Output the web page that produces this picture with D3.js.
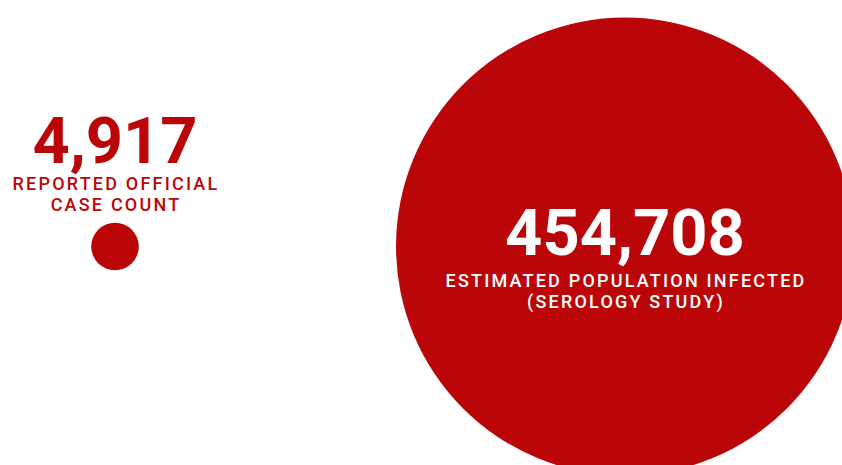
<!DOCTYPE html>
<html>
<head>
<meta charset="utf-8">
<script src="https://cdn.jsdelivr.net/npm/d3@7"></script>
<style>
  body { margin: 0; background: #fff; }
  svg text { font-family: Roboto, "Noto Sans", sans-serif; }
</style>
</head>
<body>
<div id="chart"></div>
<script>
// Chart size
var svgWidth = 842;
var svgHeight = 465;

// Data
var values = [4917, 454708];
var numberLabels = ["4,917", "454,708"];
var captionLines = [
    ["REPORTED OFFICIAL", "CASE COUNT"],
    ["ESTIMATED POPULATION INFECTED", "(SEROLOGY STUDY)"]
];

var red = "#bb0609";

var svg = d3.select("#chart")
    .append("svg")
    .attr("width", svgWidth)
    .attr("height", svgHeight);

// area-proportional radius
var rScale = d3.scaleSqrt()
    .domain([0, d3.max(values)])
    .range([0, 229]);

// x positions of the two bubbles
var xScale = d3.scalePoint()
    .domain([0, 1])
    .range([115, 625]);

var cy = 246.5;

svg.selectAll("circle")
    .data(values)
    .enter()
    .append("circle")
    .attr("cx", (d, i) => xScale(i))
    .attr("cy", cy)
    .attr("r", d => rScale(d))
    .attr("fill", red);

// small bubble: labels above it, big bubble: labels inside
var numberY = [163, 255];
var captionY = [190, 287];
var textColor = [red, "#fff"];

svg.selectAll("text.num")
    .data(numberLabels)
    .enter()
    .append("text")
    .attr("class", "num")
    .attr("x", (d, i) => xScale(i))
    .attr("y", (d, i) => numberY[i])
    .attr("text-anchor", "middle")
    .attr("font-weight", 700)
    .attr("font-size", "65px")
    .attr("fill", (d, i) => textColor[i])
    .text(d => d);

captionLines.forEach(function(lines, i) {
    svg.append("g")
        .selectAll("text")
        .data(lines)
        .enter()
        .append("text")
        .attr("x", xScale(i) + 1)
        .attr("y", (d, j) => captionY[i] + j * 21)
        .attr("text-anchor", "middle")
        .attr("font-weight", 500)
        .attr("font-size", "18px")
        .attr("letter-spacing", "2.2px")
        .attr("fill", textColor[i])
        .text(d => d);
});
</script>
</body>
</html>
